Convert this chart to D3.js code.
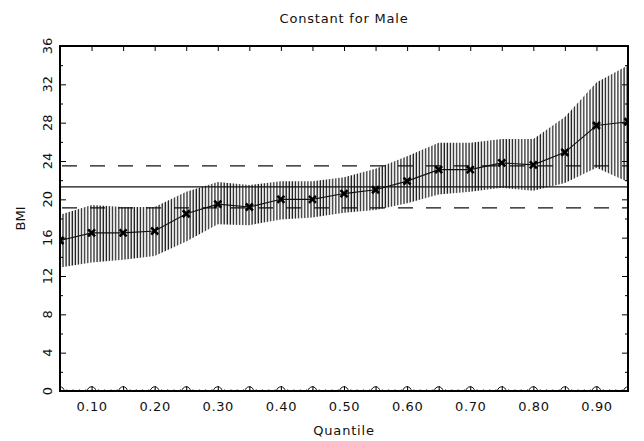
<!DOCTYPE html>
<html>
<head>
<meta charset="utf-8">
<script src="https://cdn.jsdelivr.net/npm/d3@7"></script>
<style>
  body { margin: 0; background: #fff; }
  text { font-family: "DejaVu Sans", sans-serif; fill: #111; }
</style>
</head>
<body>
<div id="chart"></div>
<script>
// quantile regression: constant term, male
const quantiles = [0.05, 0.10, 0.15, 0.20, 0.25, 0.30, 0.35, 0.40, 0.45, 0.50,
                   0.55, 0.60, 0.65, 0.70, 0.75, 0.80, 0.85, 0.90, 0.95];
const estimate = [15.7, 16.5, 16.5, 16.7, 18.5, 19.5, 19.2, 20.0, 20.0, 20.6,
                  21.0, 21.9, 23.1, 23.1, 23.8, 23.6, 24.9, 27.7, 28.1];
const upper    = [18.4, 19.4, 19.2, 19.2, 20.8, 21.8, 21.5, 21.9, 21.9, 22.3,
                  23.2, 24.5, 25.9, 25.9, 26.3, 26.3, 28.6, 32.2, 34.0];
const lower    = [12.9, 13.4, 13.7, 14.1, 15.6, 17.4, 17.3, 17.9, 18.1, 18.6,
                  18.9, 19.6, 20.5, 20.8, 21.2, 20.9, 21.7, 23.3, 21.8];
const olsLine = 21.3;           // OLS estimate
const olsBand = [19.1, 23.5];   // OLS confidence interval
const xTicks = [0.10, 0.20, 0.30, 0.40, 0.50, 0.60, 0.70, 0.80, 0.90];
const yTicks = [0, 4, 8, 12, 16, 20, 24, 28, 32, 36];

const W = 644, H = 441;
const margin = { top: 46, right: 16, bottom: 50, left: 60 };

const svg = d3.select("#chart").append("svg")
  .attr("width", W).attr("height", H);

const x = d3.scaleLinear().domain([0.05, 0.95]).range([margin.left, W - margin.right]);
const y = d3.scaleLinear().domain([0, 36]).range([H - margin.bottom, margin.top]);

const defs = svg.append("defs");
defs.append("clipPath").attr("id", "plot")
  .append("rect")
    .attr("x", x(0.05)).attr("y", y(36))
    .attr("width", x(0.95) - x(0.05)).attr("height", y(0) - y(36));

let pat = defs.append("pattern")
  .attr("id", "hatch").attr("patternUnits", "userSpaceOnUse")
  .attr("width", 3.1).attr("height", 10);
pat.append("line")
  .attr("x1", 1).attr("x2", 1).attr("y1", 0).attr("y2", 10)
  .attr("stroke", "#1a1a1a").attr("stroke-width", 1.3);

const g = svg.append("g").attr("clip-path", "url(#plot)");

// confidence band, vertical hatching
const band = quantiles.map((q, i) => ({ q: q, lo: lower[i], hi: upper[i] }));
g.append("path")
  .datum(band)
  .attr("fill", "url(#hatch)")
  .attr("d", d3.area().x(d => x(d.q)).y0(d => y(d.lo)).y1(d => y(d.hi)));

// OLS lines
g.append("line")
  .attr("x1", x(0.05)).attr("x2", x(0.95))
  .attr("y1", y(olsLine)).attr("y2", y(olsLine))
  .attr("stroke", "#111").attr("stroke-width", 1.2);
g.selectAll(".ols-ci")
  .data(olsBand).enter()
  .append("line")
    .attr("class", "ols-ci")
    .attr("x1", x(0.05) + 2).attr("x2", x(0.95))
    .attr("y1", d => y(d)).attr("y2", d => y(d))
    .attr("stroke", "#111").attr("stroke-width", 1.2)
    .attr("stroke-dasharray", "15,13");

// estimate line + x markers
const pts = quantiles.map((q, i) => ({ q: q, v: estimate[i] }));
g.append("path")
  .datum(pts)
  .attr("fill", "none").attr("stroke", "#111").attr("stroke-width", 1.1)
  .attr("d", d3.line().x(d => x(d.q)).y(d => y(d.v)));

g.selectAll(".mark")
  .data(pts).enter()
  .append("path")
    .attr("class", "mark")
    .attr("transform", d => "translate(" + x(d.q) + "," + y(d.v) + ")")
    .attr("d", "M-3.5,-3.5L3.5,3.5M-3.5,3.5L3.5,-3.5")
    .attr("stroke", "#000").attr("stroke-width", 2.6);

// zero-line circle symbols
g.selectAll(".zero")
  .data(quantiles).enter()
  .append("circle")
    .attr("class", "zero")
    .attr("cx", d => x(d)).attr("cy", y(0)).attr("r", 4.2)
    .attr("fill", "none").attr("stroke", "#111").attr("stroke-width", 1);

// axes - ticks drawn inward
const axBottom = svg.append("g").attr("transform", "translate(0," + y(0) + ")");
axBottom.call(d3.axisBottom(x).tickValues(d3.range(0.05, 0.951, 0.01)).tickSize(-2).tickFormat(""))
  .call(s => s.selectAll("line").attr("stroke", "#888"));
axBottom.append("g")
  .call(d3.axisBottom(x).tickValues(quantiles).tickSize(-5).tickFormat(""));
axBottom.append("g")
  .call(d3.axisBottom(x).tickValues(xTicks).tickSize(0).tickPadding(11).tickFormat(d3.format(".2f")))
  .call(s => s.selectAll("text").attr("font-size", 13).attr("letter-spacing", 0.6));

const axTop = svg.append("g").attr("transform", "translate(0," + y(36) + ")");
axTop.call(d3.axisTop(x).tickValues(quantiles).tickSize(-5).tickFormat(""));

const axLeft = svg.append("g").attr("transform", "translate(" + x(0.05) + ",0)");
axLeft.call(d3.axisLeft(y).tickValues(d3.range(2, 36, 4)).tickSize(-3).tickFormat(""));
axLeft.append("g")
  .call(d3.axisLeft(y).tickValues(yTicks).tickSize(-6).tickFormat(""));
axLeft.selectAll(".ylab")
  .data(yTicks).enter()
  .append("text")
    .attr("class", "ylab")
    .attr("transform", d => "translate(" + (-8) + "," + y(d) + ") rotate(-90)")
    .attr("text-anchor", "middle")
    .attr("font-size", 13)
    .text(d => d);

const axRight = svg.append("g").attr("transform", "translate(" + x(0.95) + ",0)");
axRight.call(d3.axisRight(y).tickValues(d3.range(2, 36, 4)).tickSize(-3).tickFormat(""));
axRight.append("g")
  .call(d3.axisRight(y).tickValues(yTicks).tickSize(-6).tickFormat(""));

svg.selectAll(".domain").remove();
svg.selectAll(".tick line").attr("stroke-width", 1);

// frame
svg.append("rect")
  .attr("x", x(0.05)).attr("y", y(36))
  .attr("width", x(0.95) - x(0.05)).attr("height", y(0) - y(36))
  .attr("fill", "none").attr("stroke", "#000").attr("stroke-width", 2);

// titles
svg.append("text")
  .attr("x", (x(0.05) + x(0.95)) / 2).attr("y", 23)
  .attr("text-anchor", "middle").attr("font-size", 13).attr("letter-spacing", 0.8)
  .text("Constant for Male");
svg.append("text")
  .attr("x", (x(0.05) + x(0.95)) / 2).attr("y", 435)
  .attr("text-anchor", "middle").attr("font-size", 13).attr("letter-spacing", 0.8)
  .text("Quantile");
svg.append("text")
  .attr("transform", "translate(25," + y(18) + ") rotate(-90)")
  .attr("text-anchor", "middle").attr("font-size", 13)
  .text("BMI");
</script>
</body>
</html>
